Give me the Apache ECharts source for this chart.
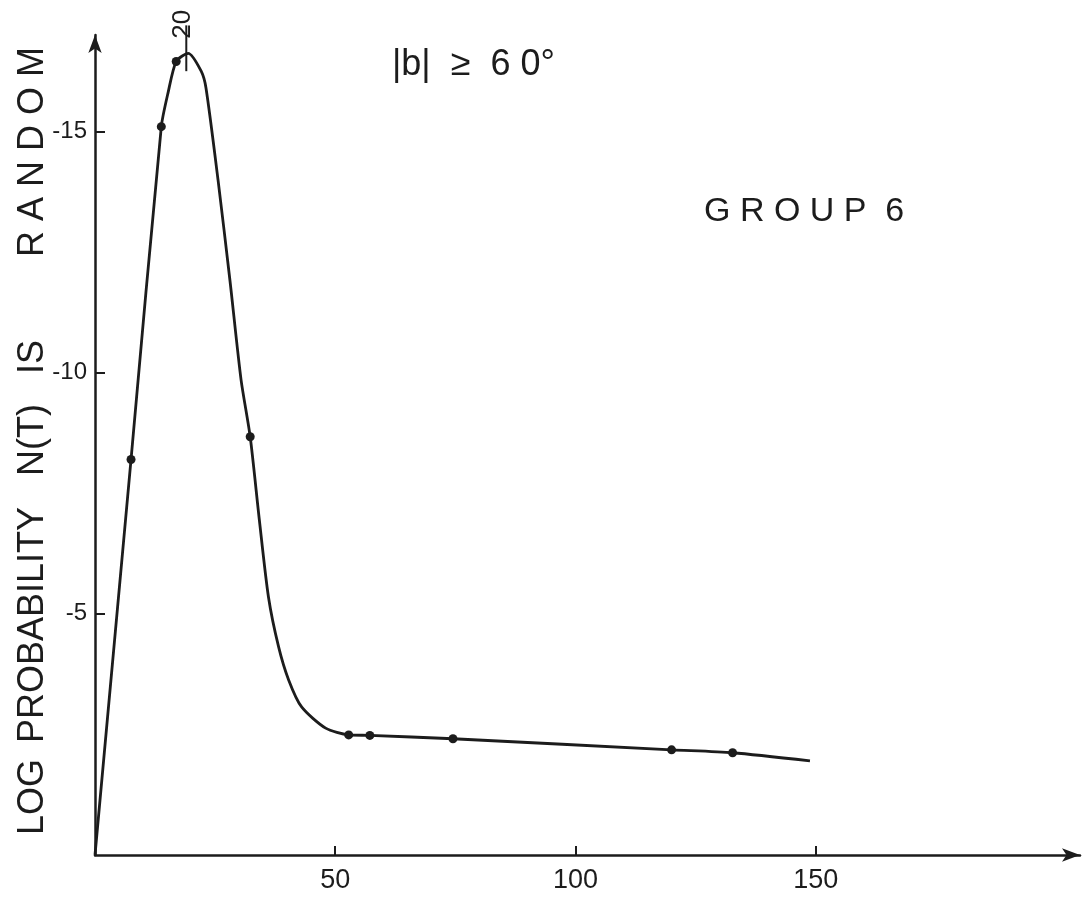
<!DOCTYPE html>
<html>
<head>
<meta charset="utf-8">
<script src="https://cdn.jsdelivr.net/npm/echarts@6/dist/echarts.min.js"></script>
<style>
html,body{margin:0;padding:0;background:#fff;}
#chart{width:1084px;height:900px;}
</style>
</head>
<body>
<div id="chart"></div>
<script>
// Curve (x: tau, y: log probability)
const curveX = [0, 7.5, 13.8, 15.2, 16.9, 19.4, 22.1, 23.1, 25.6, 28.1, 30.4, 32.3, 34.2, 36.1, 38.2, 40.3, 43.0, 48.0, 52.8, 57.2, 74.5, 120.0, 132.7, 148.8];
const curveY = [0, -8.2, -15.1, -15.8, -16.45, -16.62, -16.25, -15.9, -14.0, -11.9, -9.85, -8.67, -6.95, -5.35, -4.32, -3.63, -3.07, -2.63, -2.49, -2.48, -2.41, -2.18, -2.12, -1.95];
// Plotted data points (dots)
const dotX = [7.5, 13.8, 16.9, 32.3, 52.8, 57.2, 74.5, 120.0, 132.7];
const dotY = [-8.2, -15.1, -16.45, -8.67, -2.49, -2.48, -2.41, -2.18, -2.12];
// Axis tick labels
const xTicks = [50, 100, 150];
const yTicks = [-15, -10, -5];
// Peak marker
const peakX = 19;
const peakLabel = '20';
const peakTickY = [-16.25, -17.2];

const ink = '#1c1c1c';
const font = '"Liberation Sans", Arial, sans-serif';

const chart = echarts.init(document.getElementById('chart'));
chart.setOption({
  backgroundColor: '#ffffff',
  animation: false,
  grid: {left: 95, right: 4, top: 35, bottom: 45, containLabel: false},
  xAxis: {
    type: 'value', min: 0, max: 205,
    axisLine: {show: true, onZero: true, symbol: ['none', 'arrow'], symbolSize: [10, 18], lineStyle: {color: ink, width: 2.5}},
    axisTick: {show: true, inside: true, length: 9, customValues: xTicks, lineStyle: {color: ink, width: 2}},
    axisLabel: {show: true, customValues: xTicks, color: ink, fontSize: 27, fontFamily: font, margin: 12},
    splitLine: {show: false}
  },
  yAxis: {
    type: 'value', inverse: true, min: -17, max: 0,
    axisLine: {show: true, onZero: false, symbol: ['none', 'arrow'], symbolSize: [10, 18], lineStyle: {color: ink, width: 2.5}},
    axisTick: {show: true, inside: true, length: 10, customValues: yTicks, lineStyle: {color: ink, width: 2}},
    axisLabel: {show: true, customValues: yTicks, color: ink, fontSize: 24, fontFamily: font, margin: 8},
    splitLine: {show: false}
  },
  series: [
    {
      type: 'line', name: 'curve',
      data: curveX.map((x, i) => [x, curveY[i]]),
      smooth: 0.25,
      symbol: 'none',
      lineStyle: {color: ink, width: 2.8}
    },
    {
      type: 'scatter', name: 'points',
      data: dotX.map((x, i) => [x, dotY[i]]),
      symbol: 'circle', symbolSize: 9,
      itemStyle: {color: ink, opacity: 1}
    },
    {
      type: 'line', name: 'peakTick', clip: false,
      data: peakTickY.map(y => [peakX, y]),
      symbol: 'none',
      lineStyle: {color: ink, width: 2},
      label: {show: false}
    },
    {
      type: 'scatter', name: 'peakLabel', clip: false,
      data: [[peakX, peakTickY[1]]],
      symbolSize: 0,
      itemStyle: {opacity: 1},
      label: {show: true, formatter: peakLabel, rotate: 90, position: 'top', distance: 2, offset: [-1, 10],
              color: ink, fontSize: 26, fontFamily: font}
    }
  ],
  graphic: [
    {type: 'text', x: 392, y: 65, style: {text: '|b|  ≥  6 0°', fontSize: 36, fontFamily: font, fill: ink, verticalAlign: 'middle'}},
    {type: 'text', x: 704, y: 212, style: {text: 'G R O U P  6', fontSize: 34, fontFamily: font, fill: ink, verticalAlign: 'middle'}},
    {type: 'text', x: 33, y: 797, rotation: Math.PI / 2, style: {text: 'LOG', fontSize: 36, fontFamily: font, fill: ink, align: 'center', verticalAlign: 'middle'}},
    {type: 'text', x: 33, y: 625, rotation: Math.PI / 2, style: {text: 'PROBABILITY', fontSize: 36, fontFamily: font, fill: ink, align: 'center', verticalAlign: 'middle'}},
    {type: 'text', x: 33, y: 440, rotation: Math.PI / 2, style: {text: 'N(T)', fontSize: 36, fontFamily: font, fill: ink, align: 'center', verticalAlign: 'middle'}},
    {type: 'text', x: 33, y: 357, rotation: Math.PI / 2, style: {text: 'IS', fontSize: 36, fontFamily: font, fill: ink, align: 'center', verticalAlign: 'middle'}},
    {type: 'text', x: 33, y: 152, rotation: Math.PI / 2, style: {text: 'R A N D O M', fontSize: 36, fontFamily: font, fill: ink, align: 'center', verticalAlign: 'middle'}}
  ]
});
</script>
</body>
</html>
